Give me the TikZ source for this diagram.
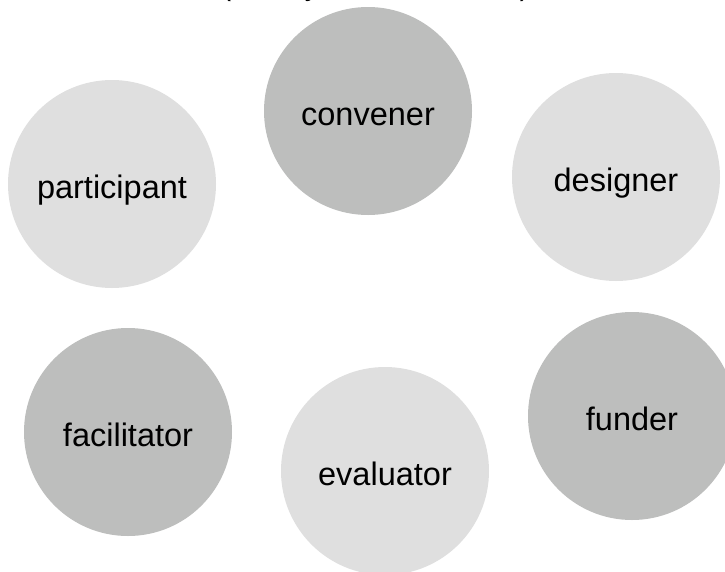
\documentclass[tikz,border=0pt]{standalone}
\usepackage{fontspec}
\setmainfont{Liberation Sans}
\definecolor{darkrole}{RGB}{189,190,189}
\definecolor{lightrole}{RGB}{223,223,223}

\begin{document}
\begin{tikzpicture}[
        x=1pt, y=-1pt,
        role/.style={circle, draw=none, inner sep=0pt, minimum size=208pt,
            text height=34pt, text depth=6pt,
            font=\fontsize{32.5}{37}\selectfont},
        caption/.style={draw=none, inner sep=0pt, anchor=base,
            font=\fontsize{29.5}{34}\selectfont}
    ]

    \useasboundingbox (0,0) rectangle (725,571);

    % Caption (mostly above the page)
    \node[caption] (note) at (375.5,-5) {(a body can be several)};

    % Roles
    \foreach \name/\x/\y/\shade in {
            convener/368/111/darkrole,
            participant/112/184/lightrole,
            designer/616/177/lightrole,
            facilitator/128/432/darkrole,
            evaluator/385/471/lightrole,
            funder/632/416/darkrole}
        \node[role, fill=\shade] (\name) at (\x,\y) {\name};

    \end{tikzpicture}
\end{document}
